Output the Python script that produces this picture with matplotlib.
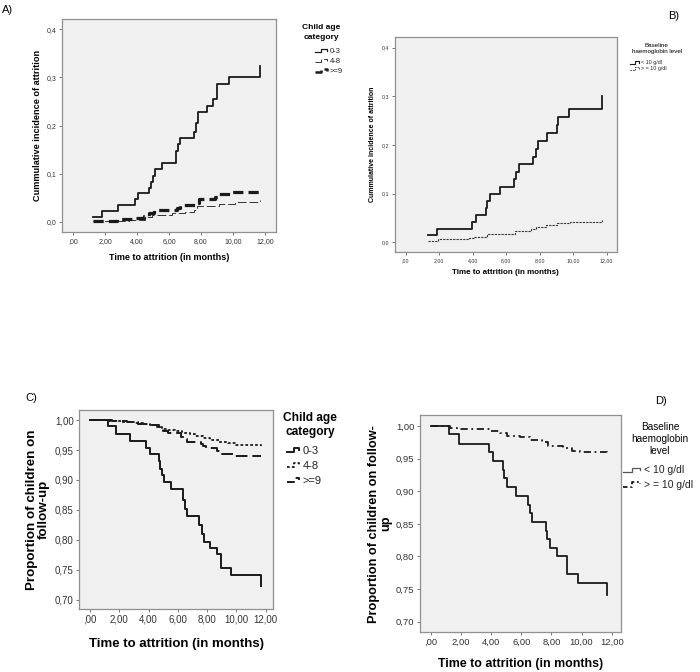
"""Attrition curves by child age category and baseline haemoglobin level."""

import matplotlib

matplotlib.use("Agg")
import matplotlib.pyplot as plt  # noqa: E402
from matplotlib.legend_handler import HandlerLine2D  # noqa: E402
from matplotlib.lines import Line2D  # noqa: E402
from matplotlib.ticker import FuncFormatter  # noqa: E402

plt.rcParams["font.family"] = ["Liberation Sans", "DejaVu Sans"]

# Panel A: cumulative incidence of attrition by child age category
A_T_03 = [1.27, 1.83, 2.79, 3.88, 4.08, 4.77, 4.88, 4.98, 5.15, 5.56, 6.42,
          6.54, 6.71, 7.58, 7.69, 7.81, 8.35, 8.77, 9.02, 9.77, 11.69]
A_V_03 = [0.011, 0.0235, 0.035, 0.047, 0.0595, 0.071, 0.084, 0.096, 0.109,
          0.122, 0.148, 0.162, 0.175, 0.1875, 0.205, 0.228, 0.241, 0.256,
          0.286, 0.300, 0.324]
A_T_48 = [1.27, 3.5, 4.5, 4.95, 6.2, 7.0, 7.55, 7.75, 9.1, 10.1, 11.69]
A_V_48 = [0.002, 0.005, 0.010, 0.014, 0.018, 0.021, 0.025, 0.033, 0.038,
          0.042, 0.045]
A_T_9 = [1.27, 2.75, 3.79, 4.42, 4.77, 5.04, 6.5, 6.71, 7.65, 7.9, 8.9, 9.1,
         9.94, 11.69]
A_V_9 = [0.003, 0.0055, 0.009, 0.0125, 0.018, 0.025, 0.028, 0.035, 0.040,
         0.047, 0.052, 0.059, 0.062, 0.062]

# Panel B: cumulative incidence of attrition by baseline haemoglobin
B_T_LOW = [1.35, 1.89, 3.94, 4.18, 4.80, 4.88, 5.02, 5.63, 6.49, 6.60, 6.77,
           7.62, 7.75, 7.92, 8.42, 9.02, 9.08, 9.75, 11.70]
B_V_LOW = [0.014, 0.028, 0.042, 0.056, 0.070, 0.085, 0.099, 0.114, 0.130,
           0.145, 0.160, 0.176, 0.192, 0.208, 0.224, 0.242, 0.258, 0.275,
           0.300]
B_T_HIGH = [1.35, 1.95, 3.8, 4.1, 4.85, 5.7, 6.55, 7.5, 7.8, 8.4, 9.05, 9.8,
            11.7]
B_V_HIGH = [0.003, 0.006, 0.008, 0.010, 0.016, 0.018, 0.024, 0.027, 0.031,
            0.035, 0.040, 0.042, 0.045]

# Panel C: proportion on follow-up by child age category
C_T_03 = [1.23, 1.75, 2.73, 3.80, 4.08, 4.72, 4.80, 4.90, 5.05, 5.51, 6.36,
          6.50, 6.65, 7.45, 7.62, 7.80, 8.18, 8.66, 8.93, 9.61, 11.70]
C_S_03 = [0.990, 0.977, 0.965, 0.954, 0.943, 0.932, 0.919, 0.908, 0.897,
          0.885, 0.866, 0.852, 0.840, 0.825, 0.810, 0.796, 0.787, 0.776,
          0.753, 0.741, 0.724]
C_T_48 = [1.3, 2.2, 3.0, 3.6, 4.1, 4.6, 4.9, 5.3, 5.8, 6.3, 6.8, 7.2, 7.7,
          8.2, 8.8, 9.4, 10.0, 11.7]
C_S_48 = [0.998, 0.996, 0.995, 0.993, 0.991, 0.988, 0.985, 0.983, 0.981,
          0.979, 0.976, 0.973, 0.970, 0.967, 0.964, 0.961, 0.959, 0.957]
C_T_9 = [1.5, 2.5, 3.3, 4.0, 4.7, 4.85, 5.0, 5.3, 6.2, 6.4, 6.65, 7.55, 7.7,
         7.9, 8.7, 8.93, 9.8, 11.7]
C_S_9 = [0.998, 0.996, 0.994, 0.992, 0.988, 0.985, 0.982, 0.978, 0.972,
         0.968, 0.964, 0.960, 0.957, 0.954, 0.948, 0.944, 0.940, 0.940]

# Panel D: proportion on follow-up by baseline haemoglobin
D_T_LOW = [1.22, 1.84, 3.87, 4.10, 4.76, 4.85, 5.02, 5.62, 6.46, 6.57, 6.73,
           7.62, 7.73, 7.90, 8.34, 9.01, 9.74, 11.67]
D_S_LOW = [0.987, 0.973, 0.960, 0.947, 0.933, 0.920, 0.907, 0.893, 0.879,
           0.866, 0.853, 0.839, 0.826, 0.813, 0.800, 0.773, 0.760, 0.741]
D_T_HIGH = [1.26, 1.70, 3.94, 4.61, 5.05, 5.93, 6.6, 7.37, 7.8, 8.8, 9.36,
            9.9, 11.67]
D_S_HIGH = [0.997, 0.995, 0.993, 0.989, 0.985, 0.983, 0.979, 0.975, 0.970,
            0.966, 0.962, 0.960, 0.958]

X_TICKS = [0, 2, 4, 6, 8, 10, 12]
INCIDENCE_TICKS = [0.0, 0.1, 0.2, 0.3, 0.4]
FOLLOW_UP_TICKS = [0.70, 0.75, 0.80, 0.85, 0.90, 0.95, 1.00]
AGE_LABELS = ["0-3", "4-8", ">=9"]
HB_LABELS = ["< 10 g/dl", "> = 10 g/dl"]
AGE_TITLE = "Child age\ncategory"
X_LABEL = "Time to attrition (in months)"
INCIDENCE_LABEL = "Cummulative incidence of attrition"

W, H = 700, 672


class StepHandler(HandlerLine2D):
    """Small step glyph, as SPSS draws in its survival legends."""

    def create_artists(self, legend, orig_handle, xdescent, ydescent,
                       width, height, fontsize, trans):
        x0 = -xdescent
        y0 = -ydescent + height / 2
        d = height * 0.3
        xs = [x0, x0 + 0.45 * width, x0 + 0.45 * width, x0 + 0.85 * width,
              x0 + 0.85 * width]
        ys = [y0 - d, y0 - d, y0 + d, y0 + d, y0]
        line = Line2D(xs, ys)
        self.update_prop(line, orig_handle, legend)
        line.set_drawstyle("default")
        line.set_transform(trans)
        return [line]


def rect(left, top, right, bottom):
    """Pixel box -> figure fraction rectangle."""
    return [left / W, 1 - bottom / H, (right - left) / W, (bottom - top) / H]


def x_fmt(value, _):
    text = f"{value:.2f}".replace(".", ",")
    return text[1:] if text.startswith("0,") else text


def y_fmt(decimals):
    return FuncFormatter(lambda v, _: f"{v:.{decimals}f}".replace(".", ","))


def style(ax, xlim, ylim, yticks, decimals, size):
    ax.set_facecolor("#f0f0f0")
    for spine in ax.spines.values():
        spine.set_color("#909090")
        spine.set_linewidth(0.9)
    ax.set_xlim(*xlim)
    ax.set_ylim(*ylim)
    ax.set_xticks(X_TICKS)
    ax.set_yticks(yticks)
    ax.xaxis.set_major_formatter(FuncFormatter(x_fmt))
    ax.yaxis.set_major_formatter(y_fmt(decimals))
    ax.tick_params(direction="out", length=2.5, width=0.6, color="#606060",
                   labelsize=size, labelcolor="#333333", pad=1.5)


def add_legend(ax, styles, labels, anchor, size, spacing, handlelength):
    handles = [Line2D([], [], **kw) for kw in styles]
    ax.legend(handles, labels, loc="upper left", bbox_to_anchor=anchor,
              frameon=False, fontsize=size, labelcolor="#222222",
              handlelength=handlelength, handletextpad=0.1,
              labelspacing=spacing, borderpad=0, borderaxespad=0,
              handler_map={Line2D: StepHandler()})


def add_title(ax, text, xy, size, bold, spacing):
    ax.text(*xy, text, transform=ax.transAxes, ha="center", va="top",
            multialignment="center", fontsize=size, linespacing=spacing,
            fontweight="bold" if bold else "normal")


def survival(ax, times, values, **kw):
    ax.plot([0] + times, [1.0] + values, drawstyle="steps-post", **kw)


def incidence(ax, times, values, **kw):
    ax.plot(times, values, drawstyle="steps-post", **kw)


fig = plt.figure(figsize=(W / 100, H / 100), dpi=100)
fig.patch.set_facecolor("white")

# A
solid_a = dict(color="#1a1a1a", linewidth=1.3)
thin_a = dict(color="#333333", linewidth=0.7, dashes=(9, 3))
thick_a = dict(color="#1a1a1a", linewidth=2.3, dashes=(3.2, 1.6))
ax = fig.add_axes(rect(62, 19, 276, 232))
incidence(ax, A_T_03, A_V_03, **solid_a)
incidence(ax, A_T_48, A_V_48, **thin_a)
incidence(ax, A_T_9, A_V_9, **thick_a)
style(ax, (-0.69, 12.69), (-0.0208, 0.4214), INCIDENCE_TICKS, 1, 5)
ax.set_xlabel(X_LABEL, fontsize=6.5, fontweight="bold")
ax.set_ylabel(INCIDENCE_LABEL, fontsize=6.6, fontweight="bold")
ax.xaxis.set_label_coords(0.5, -0.097)
ax.yaxis.set_label_coords(-0.093, 0.5)
add_title(ax, AGE_TITLE, (1.21, 0.976), 6, True, 1.55)
add_legend(ax, [dict(solid_a, linewidth=0.9), thin_a,
                dict(thick_a, linewidth=1.8)],
           AGE_LABELS, (1.182, 0.864), 5.5, 0.35, 1.8)

# B
solid_b = dict(color="#1a1a1a", linewidth=1.3)
dot_b = dict(color="#333333", linewidth=0.8, dashes=(2, 1))
ax = fig.add_axes(rect(394.7, 36.7, 616.7, 252.3))
incidence(ax, B_T_LOW, B_V_LOW, **solid_b)
incidence(ax, B_T_HIGH, B_V_HIGH, **dot_b)
style(ax, (-0.657, 12.597), (-0.0206, 0.4226), INCIDENCE_TICKS, 1, 3.8)
ax.set_xlabel(X_LABEL, fontsize=5.75, fontweight="bold")
ax.set_ylabel(INCIDENCE_LABEL, fontsize=5, fontweight="bold")
ax.xaxis.set_label_coords(0.5, -0.077)
ax.yaxis.set_label_coords(-0.084, 0.5)
add_title(ax, "Baseline\nhaemoglobin level", (1.181, 0.97), 4.5, False, 1.3)
add_legend(ax, [dict(solid_b, linewidth=0.8), dict(dot_b, linewidth=0.6)],
           HB_LABELS, (1.06, 0.89), 3.9, 0.2, 1.9)

# C
solid_c = dict(color="#1a1a1a", linewidth=1.4)
dot_c = dict(color="#1a1a1a", linewidth=1.3, dashes=(1.5, 1.2))
dash_c = dict(color="#1a1a1a", linewidth=1.4, dashes=(6, 2.5))
ax = fig.add_axes(rect(79.3, 410, 273.3, 609.3))
survival(ax, C_T_03, C_S_03, **solid_c)
survival(ax, C_T_48, C_S_48, **dot_c)
survival(ax, C_T_9, C_S_9, **dash_c)
style(ax, (-0.73, 12.52), (0.6844, 1.0167), FOLLOW_UP_TICKS, 2, 7)
ax.set_xlabel(X_LABEL, fontsize=9.5, fontweight="bold")
ax.set_ylabel("Proportion of children on\nfollow-up", fontsize=9.6,
              fontweight="bold", linespacing=1.0)
ax.xaxis.set_label_coords(0.5, -0.146)
ax.yaxis.set_label_coords(-0.151, 0.5)
add_title(ax, AGE_TITLE, (1.189, 0.99), 8.6, True, 1.25)
add_legend(ax, [solid_c, dot_c, dict(dash_c, dashes=(4, 2.5))],
           AGE_LABELS, (1.071, 0.82), 8, 0.45, 1.3)

# D
solid_d = dict(color="#1a1a1a", linewidth=1.3)
dashdot_d = dict(color="#1a1a1a", linewidth=1.3, dashes=(4, 2, 1, 2))
ax = fig.add_axes(rect(420, 415, 621, 632.3))
survival(ax, D_T_LOW, D_S_LOW, **solid_d)
survival(ax, D_T_HIGH, D_S_HIGH, **dashdot_d)
style(ax, (-0.73, 12.62), (0.6837, 1.0169), FOLLOW_UP_TICKS, 2, 6.8)
ax.set_xlabel(X_LABEL, fontsize=8.9, fontweight="bold")
ax.set_ylabel("Proportion of children on follow-\nup", fontsize=9.2,
              fontweight="bold", linespacing=1.0)
ax.xaxis.set_label_coords(0.5, -0.12)
ax.yaxis.set_label_coords(-0.139, 0.5)
add_title(ax, "Baseline\nhaemoglobin\nlevel", (1.194, 0.967), 7.2, False,
          1.22)
add_legend(ax, [dict(solid_d, linewidth=0.9, color="#555555"),
                dict(dashdot_d, dashes=(2.5, 1.5, 1, 1.5))],
           HB_LABELS, (1.01, 0.768), 7.5, 0.45, 1.9)

# panel letters
fig.text(2 / W, 1 - 5 / H, "A)", fontsize=8, va="top", ha="left")
fig.text(668 / W, 1 - 11 / H, "B)", fontsize=8, va="top", ha="left")
fig.text(25 / W, 1 - 393 / H, "C)", fontsize=8, va="top", ha="left")
fig.text(655 / W, 1 - 396 / H, "D)", fontsize=8, va="top", ha="left")

fig.savefig("out.png", dpi=100, facecolor="white")
